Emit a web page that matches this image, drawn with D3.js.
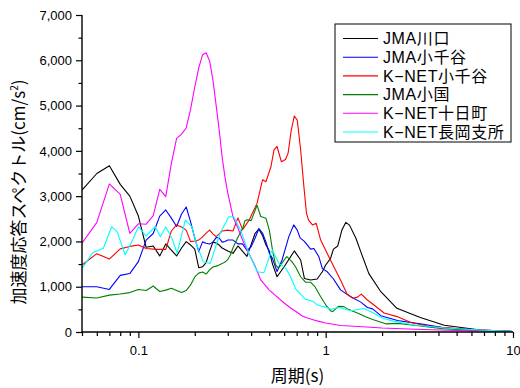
<!DOCTYPE html>
<html>
<head>
<meta charset="utf-8">
<script src="https://cdn.jsdelivr.net/npm/d3@7/dist/d3.min.js"></script>
<style>
  html, body { margin: 0; padding: 0; background: #fff; }
  svg { display: block; }
  .tick text { font-family: "Liberation Sans", Arial, sans-serif; font-size: 13px; fill: #000; }
  .jp { font-family: "Noto Sans CJK JP", sans-serif; fill: #000; }
  .legend-label { font-family: "Liberation Sans", "Noto Sans CJK JP", sans-serif; fill: #000; }
</style>
</head>
<body>
<svg id="chart" width="520" height="388"></svg>
<script>
// Acceleration response spectra (h = 5%) — period [s] vs. spectral acceleration [cm/s^2]

const seriesNames = ["JMA川口", "JMA小千谷", "K-NET小千谷", "JMA小国", "K-NET十日町", "K-NET長岡支所"];
const seriesColors = ["#000000", "#0000ff", "#ff0000", "#008000", "#ff00ff", "#00ffff"];

const periodKawaguchi = [0.05,0.06,0.07,0.08,0.09,0.10,0.11,0.12,0.13,0.14,0.15,0.16,0.17,0.18,0.19,0.20,0.21,0.22,0.23,0.24,0.25,0.26,0.27,0.28,0.30,0.32,0.34,0.38,0.42,0.44,0.46,0.48,0.50,0.52,0.55,0.60,0.68,0.735,0.77,0.83,0.90,0.96,1.0,1.06,1.1,1.16,1.22,1.28,1.34,1.45,1.54,1.7,1.97,2.4,3.2,4.3,6.7,10];
const accelKawaguchi  = [3135,3500,3670,3260,3000,2560,1870,1900,1680,1945,1810,1680,1855,1995,1920,1830,1420,1440,1530,1780,1985,1965,1920,1855,1790,1737,1900,1670,2180,2270,2130,1920,1790,1500,1220,1440,1790,1590,1180,1150,1170,1330,1480,1620,1830,1900,2250,2420,2360,2070,1770,1290,890,523,320,150,44,11];

const periodOjiyaJMA = [0.05,0.06,0.07,0.08,0.09,0.10,0.11,0.12,0.13,0.14,0.15,0.16,0.17,0.18,0.19,0.20,0.21,0.22,0.23,0.24,0.25,0.26,0.27,0.28,0.29,0.30,0.32,0.34,0.36,0.38,0.40,0.42,0.44,0.46,0.48,0.50,0.52,0.55,0.585,0.635,0.675,0.705,0.73,0.77,0.83,0.865,0.92,0.96,1.02,1.1,1.2,1.36,1.54,1.67,1.78,1.97,2.42,3.2,4.3,6.7,10];
const accelOjiyaJMA  = [1000,1000,940,1250,1290,1555,2030,2175,2560,2695,2515,2330,2605,2760,2430,2075,1775,1990,1960,1945,1985,2085,2075,1985,2000,2030,2030,1945,1945,1800,1880,2075,2285,2185,1985,1745,1620,1335,1590,2100,2365,2250,2080,2000,1830,1845,1660,1400,1330,1170,930,780,660,540,510,360,255,180,95,44,11];

const periodOjiyaKNET = [0.05,0.06,0.07,0.08,0.09,0.10,0.11,0.125,0.14,0.15,0.16,0.17,0.18,0.19,0.20,0.21,0.22,0.23,0.24,0.25,0.26,0.27,0.28,0.30,0.32,0.34,0.36,0.39,0.43,0.46,0.48,0.51,0.53,0.55,0.56,0.58,0.61,0.63,0.655,0.68,0.705,0.735,0.765,0.79,0.81,0.85,0.89,0.94,1.06,1.2,1.3,1.4,1.48,1.55,1.67,1.81,2.05,2.4,2.85,3.6,5.5,7,10];
const accelOjiyaKNET  = [1480,1730,1610,1835,1890,1920,1845,1825,1825,2230,2365,2320,2250,1995,2010,2030,2100,2185,2250,2165,2105,2165,2230,2250,2230,2520,2260,2470,2840,3360,3320,3650,4020,4100,3980,3760,3810,3950,4460,4770,4680,4020,3210,2620,2470,2365,2400,2030,1590,1150,840,745,770,835,707,596,420,340,210,120,60,35,11];

const periodOguni = [0.05,0.06,0.07,0.08,0.09,0.10,0.11,0.12,0.13,0.14,0.15,0.16,0.17,0.18,0.19,0.20,0.21,0.22,0.23,0.24,0.25,0.26,0.27,0.28,0.29,0.30,0.31,0.32,0.34,0.36,0.37,0.38,0.40,0.43,0.45,0.48,0.50,0.52,0.54,0.56,0.60,0.62,0.66,0.69,0.735,0.78,0.83,0.88,0.94,1.0,1.06,1.09,1.17,1.25,1.32,1.42,1.5,1.63,1.8,2.09,2.42,2.97,4.2,6,10];
const accelOguni  = [770,750,815,840,870,940,915,1015,895,925,965,915,870,915,1040,1215,1300,1325,1280,1370,1435,1455,1480,1510,1545,1600,1700,1860,2090,2280,2450,2480,2460,2800,2550,2510,2250,1810,1480,1410,1590,1665,1555,1440,1220,1100,1100,990,780,600,470,450,565,560,500,445,410,335,270,180,190,150,75,40,11];

const periodTokamachi = [0.05,0.06,0.07,0.08,0.09,0.10,0.11,0.12,0.13,0.14,0.15,0.16,0.17,0.18,0.19,0.20,0.21,0.22,0.23,0.24,0.25,0.26,0.27,0.28,0.29,0.30,0.32,0.34,0.36,0.38,0.40,0.42,0.45,0.50,0.55,0.60,0.65,0.70,0.75,0.80,0.90,1.0,1.2,1.5,2,3,5,10];
const accelTokamachi  = [1960,2420,3270,3040,2180,2390,2380,2570,3150,2990,3725,4275,4370,4505,4920,5410,5830,6120,6165,5985,5565,5010,4460,3865,3420,3070,2540,2295,2030,1810,1635,1455,1150,925,775,640,530,440,355,310,245,200,145,120,88,60,33,11];

const periodNagaoka = [0.05,0.057,0.065,0.072,0.077,0.085,0.094,0.10,0.11,0.123,0.131,0.14,0.151,0.161,0.178,0.193,0.205,0.222,0.242,0.273,0.304,0.323,0.351,0.389,0.431,0.468,0.508,0.519,0.54,0.563,0.611,0.65,0.69,0.75,0.78,0.82,0.86,0.90,0.95,1.0,1.06,1.18,1.36,1.6,1.8,2.0,2.3,2.97,4.48,6.74,10];
const accelNagaoka  = [1400,1750,1850,2325,2215,1700,2070,2325,2120,2325,2105,2325,2070,1740,2470,2325,1920,1550,1515,2180,2545,2545,2250,1740,1330,1310,1740,1810,1660,1515,1410,1220,960,790,720,700,670,600,570,550,500,540,470,520,420,310,240,155,82,44,11];

const periodSeries = [periodKawaguchi, periodOjiyaJMA, periodOjiyaKNET, periodOguni, periodTokamachi, periodNagaoka];
const accelSeries  = [accelKawaguchi, accelOjiyaJMA, accelOjiyaKNET, accelOguni, accelTokamachi, accelNagaoka];

const xMajorTicks = [0.1, 1, 10];
const xMinorTicks = [0.05,0.06,0.07,0.08,0.09,0.2,0.3,0.4,0.5,0.6,0.7,0.8,0.9,2,3,4,5,6,7,8,9];
const yMajorTicks = [0,1000,2000,3000,4000,5000,6000,7000];
const yMinorTicks = [500,1500,2500,3500,4500,5500,6500];

const plot = { left: 82, right: 513, top: 15, bottom: 332 };

const svg = d3.select("#chart");

const x = d3.scaleLog().domain([0.05, 10]).range([plot.left, plot.right]);
const y = d3.scaleLinear().domain([0, 7000]).range([plot.bottom, plot.top]);

svg.append("defs").append("clipPath").attr("id", "plotClip")
  .append("rect")
  .attr("x", plot.left).attr("y", plot.top - 2)
  .attr("width", plot.right - plot.left + 2).attr("height", plot.bottom - plot.top + 2);

// spectra
const line = d3.line().x(d => x(d[0])).y(d => y(d[1]));
const lines = svg.append("g").attr("clip-path", "url(#plotClip)");
periodSeries.forEach((periods, i) => {
  const pts = periods.map((p, k) => [p, accelSeries[i][k]]);
  lines.append("path")
    .datum(pts)
    .attr("fill", "none")
    .attr("stroke", seriesColors[i])
    .attr("stroke-width", 1.1)
    .attr("stroke-linejoin", "round")
    .attr("d", line);
});

// axes
const fmt = d3.format(",");
const xMinorG = svg.append("g").attr("transform", `translate(0,${plot.bottom})`)
  .call(d3.axisBottom(x).tickValues(xMinorTicks).tickSize(4).tickFormat(""));
xMinorG.select(".domain").remove();
const xMajorG = svg.append("g").attr("transform", `translate(0,${plot.bottom})`)
  .call(d3.axisBottom(x).tickValues(xMajorTicks).tickSize(6).tickPadding(8).tickFormat(d => String(d)));
xMajorG.select(".domain").remove();

const yMinorG = svg.append("g").attr("transform", `translate(${plot.left},0)`)
  .call(d3.axisLeft(y).tickValues(yMinorTicks).tickSize(3.5).tickFormat(""));
yMinorG.select(".domain").remove();
const yMajorG = svg.append("g").attr("transform", `translate(${plot.left},0)`)
  .call(d3.axisLeft(y).tickValues(yMajorTicks).tickSize(6).tickPadding(4).tickFormat(fmt));
yMajorG.select(".domain").remove();

svg.selectAll(".tick line").attr("stroke", "#000").attr("stroke-width", 1.2);

// axis lines
svg.append("line").attr("x1", plot.left).attr("x2", plot.left)
  .attr("y1", plot.top).attr("y2", plot.bottom)
  .attr("stroke", "#000").attr("stroke-width", 1.4);
svg.append("line").attr("x1", plot.left).attr("x2", plot.right)
  .attr("y1", plot.bottom).attr("y2", plot.bottom)
  .attr("stroke", "#000").attr("stroke-width", 1.4);

// axis titles
svg.append("text").attr("class", "jp")
  .attr("x", (plot.left + plot.right) / 2).attr("y", 382)
  .attr("text-anchor", "middle").attr("font-size", 17)
  .text("周期(s)");

const yTitle = svg.append("text").attr("class", "jp")
  .attr("transform", "translate(25,192) rotate(-90)")
  .attr("text-anchor", "middle").attr("font-size", 17);
yTitle.append("tspan").text("加速度応答スペクトル(cm/s");
yTitle.append("tspan").attr("font-size", 10).attr("dy", -7).text("2");
yTitle.append("tspan").attr("dy", 7).text(")");

// legend
const legendRow0 = 38.5, legendStep = 18.7;
const legend = svg.append("g");
legend.append("rect")
  .attr("x", 335).attr("y", 24).attr("width", 176).attr("height", 118)
  .attr("fill", "#fff").attr("stroke", "#000").attr("stroke-width", 1);
seriesNames.forEach((name, i) => {
  const cy = legendRow0 + i * legendStep;
  legend.append("line")
    .attr("x1", 343).attr("x2", 378).attr("y1", cy).attr("y2", cy)
    .attr("stroke", seriesColors[i]).attr("stroke-width", 1.1);
  legend.append("text").attr("class", "legend-label")
    .attr("x", 383).attr("y", cy + 5.8)
    .attr("font-size", 16).attr("letter-spacing", 0.6)
    .text(name.replace("-", "\u2212"));
});
</script>
</body>
</html>
